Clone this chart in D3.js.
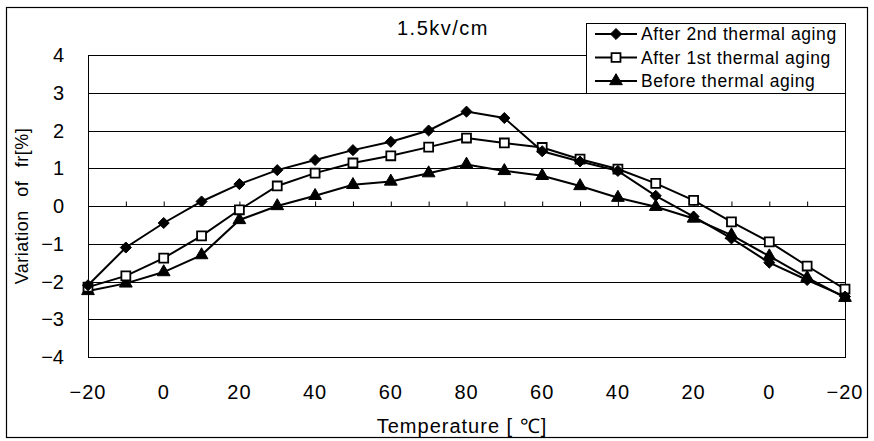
<!DOCTYPE html>
<html>
<head>
<meta charset="utf-8">
<script src="https://cdn.jsdelivr.net/npm/d3@7"></script>
<style>
  body { margin: 0; background: #fff; }
  text { font-family: "Liberation Sans", Arial, sans-serif; fill: #000; }
</style>
</head>
<body>
<script>
// temperature cycle: -20 up to 80 and back down to -20
var temps = [-20, -10, 0, 10, 20, 30, 40, 50, 60, 70, 80, 70, 60, 50, 40, 30, 20, 10, 0, -10, -20];
var yTicks = [-4, -3, -2, -1, 0, 1, 2, 3, 4];

var after2nd = [-2.1, -1.1, -0.45, 0.12, 0.58, 0.95, 1.22, 1.48, 1.7, 2.0, 2.5, 2.33, 1.45, 1.18, 0.93, 0.27, -0.28, -0.86, -1.5, -1.96, -2.4];
var after1st = [-2.15, -1.85, -1.38, -0.79, -0.1, 0.53, 0.87, 1.14, 1.33, 1.56, 1.8, 1.67, 1.55, 1.24, 0.98, 0.6, 0.15, -0.42, -0.95, -1.59, -2.2];
var before   = [-2.25, -2.05, -1.75, -1.3, -0.37, 0.0, 0.27, 0.56, 0.65, 0.87, 1.1, 0.93, 0.8, 0.53, 0.22, -0.02, -0.33, -0.77, -1.33, -1.9, -2.43];

var seriesNames = ["After 2nd thermal aging", "After 1st thermal aging", "Before thermal aging"];
var seriesData = [after2nd, after1st, before];
var seriesMarkers = ["diamond", "square", "triangle"];

var W = 874, H = 441;
var plotLeft = 88, plotRight = 845, plotTop = 55, plotBottom = 357;

var svg = d3.select("body").append("svg")
            .attr("width", W)
            .attr("height", H);

// outer frame
svg.append("rect")
   .attr("x", 6.5).attr("y", 7.5)
   .attr("width", 861).attr("height", 430)
   .attr("fill", "none").attr("stroke", "#000").attr("stroke-width", 1.2);

var x = d3.scalePoint()
          .domain(d3.range(temps.length))
          .range([plotLeft, plotRight]);

var y = d3.scaleLinear()
          .domain([-4, 4])
          .range([plotBottom, plotTop]);

// gridlines
svg.append("g").selectAll("line")
   .data(yTicks)
   .enter().append("line")
   .attr("x1", plotLeft).attr("x2", plotRight)
   .attr("y1", function (d) { return Math.round(y(d)) + 0.5; })
   .attr("y2", function (d) { return Math.round(y(d)) + 0.5; })
   .attr("stroke", "#000").attr("stroke-width", 1);

// plot frame
svg.append("rect")
   .attr("x", plotLeft + 0.5).attr("y", Math.round(y(4)) + 0.5)
   .attr("width", plotRight - plotLeft).attr("height", Math.round(y(-4)) - Math.round(y(4)))
   .attr("fill", "none").attr("stroke", "#000").attr("stroke-width", 1);

// y tick labels
svg.append("g").selectAll("text")
   .data(yTicks)
   .enter().append("text")
   .attr("x", 64)
   .attr("y", function (d) { return y(d) + 7; })
   .attr("text-anchor", "end")
   .style("font-size", "20px")
   .text(function (d) { return d < 0 ? "\u2212" + Math.abs(d) : d; });

// category axis crossing at 0, ticks pointing up
var xAxis = d3.axisTop(x).tickSize(5).tickFormat("");
var gx = svg.append("g")
            .attr("transform", "translate(0," + (Math.round(y(0)) + 0.5) + ")")
            .call(xAxis);
gx.select(".domain").remove();
gx.selectAll("line").attr("stroke", "#000");

// x tick labels, every other category
svg.append("g").selectAll("text")
   .data(d3.range(0, temps.length, 2))
   .enter().append("text")
   .attr("x", function (i) { return x(i); })
   .attr("y", 399)
   .attr("text-anchor", "middle")
   .style("font-size", "20px")
   .style("letter-spacing", "1px")
   .text(function (i) { return temps[i] < 0 ? "\u2212" + Math.abs(temps[i]) : temps[i]; });

// titles
svg.append("text")
   .attr("x", 443).attr("y", 35)
   .attr("text-anchor", "middle")
   .style("font-size", "20px")
   .style("letter-spacing", "1.5px")
   .text("1.5kv/cm");

svg.append("text")
   .attr("x", 462).attr("y", 433)
   .attr("text-anchor", "middle")
   .style("font-size", "20px")
   .style("letter-spacing", "1px")
   .text("Temperature [ \u2103]");

svg.append("text")
   .attr("transform", "translate(28,206) rotate(-90)")
   .attr("text-anchor", "middle")
   .style("font-size", "18px")
   .style("letter-spacing", "0.5px")
   .style("word-spacing", "8px")
   .text("Variation of fr[%]");

function drawMarker(g, kind, px, py) {
  var p = g.append("path")
           .attr("transform", "translate(" + px + "," + py + ")")
           .attr("stroke", "#000");
  if (kind === "diamond") {
    p.attr("d", d3.symbol().type(d3.symbolDiamond2).size(78)()).attr("fill", "#000");
  } else if (kind === "square") {
    p.attr("d", d3.symbol().type(d3.symbolSquare).size(80)()).attr("fill", "#fff").attr("stroke-width", 1.8);
  } else {
    p.attr("d", d3.symbol().type(d3.symbolTriangle).size(70)()).attr("fill", "#000");
  }
}

var line = d3.line()
             .x(function (d, i) { return x(i); })
             .y(function (d) { return y(d); });

// draw series back to front
for (var s = seriesData.length - 1; s >= 0; s--) {
  var g = svg.append("g");
  g.append("path")
   .datum(seriesData[s])
   .attr("d", line)
   .attr("fill", "none")
   .attr("stroke", "#000")
   .attr("stroke-width", 2);
  seriesData[s].forEach(function (v, i) {
    drawMarker(g, seriesMarkers[s], x(i), y(v));
  });
}

// legend
var lg = svg.append("g");
lg.append("rect")
  .attr("x", 586.5).attr("y", 23.5)
  .attr("width", 259).attr("height", 70)
  .attr("fill", "#fff").attr("stroke", "#000").attr("stroke-width", 1);

seriesNames.forEach(function (name, i) {
  var ly = 34 + i * 23.5;
  lg.append("line")
    .attr("x1", 595).attr("x2", 637)
    .attr("y1", ly).attr("y2", ly)
    .attr("stroke", "#000").attr("stroke-width", 2);
  drawMarker(lg, seriesMarkers[i], 616, ly);
  lg.append("text")
    .attr("x", 641).attr("y", ly + 6)
    .style("font-size", "17.5px")
    .style("letter-spacing", "0.6px")
    .text(name);
});
</script>
</body>
</html>
